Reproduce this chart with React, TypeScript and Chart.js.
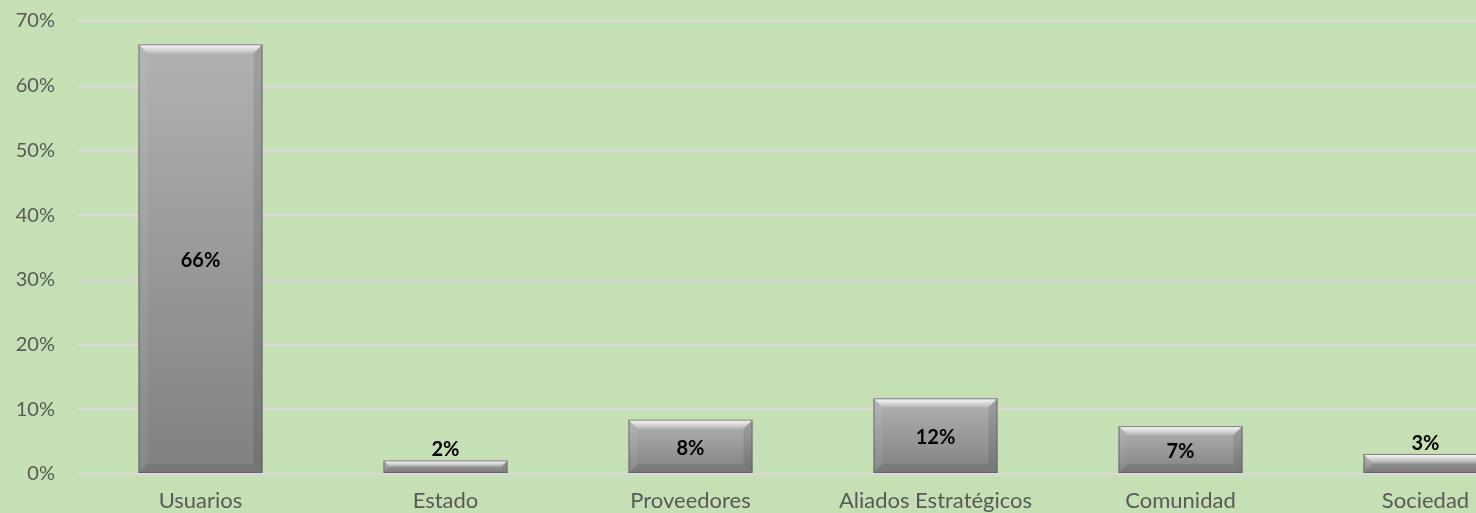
import React, { useEffect, useRef } from "react";
import { Chart, registerables } from "chart.js";

Chart.register(...registerables);

const categories = ["Usuarios", "Estado", "Proveedores", "Aliados Estratégicos", "Comunidad", "Sociedad"];
const values = [66.4, 2.1, 8.4, 11.7, 7.4, 3.1];
const labels = ["66%", "2%", "8%", "12%", "7%", "3%"];
const yMax = 70;
const yStep = 10;

const FONT = "Lato, 'Open Sans', sans-serif";
const SHIFT = 14;

const bevelPlugin = {
  id: "bevel",
  afterDatasetsDraw(chart: any) {
    const ctx = chart.ctx;
    const meta = chart.getDatasetMeta(0);
    meta.data.forEach((el: any, i: number) => {
      const { x, y, base, width } = el.getProps(["x", "y", "base", "width"], true);
      const l = x - width / 2;
      const r = x + width / 2;
      const t = y;
      const b = base;
      const h = b - t;
      const bv = Math.min(9, h / 2);
      ctx.save();
      const g = ctx.createLinearGradient(0, t, 0, t + bv);
      g.addColorStop(0, "rgba(255,255,255,0.95)");
      g.addColorStop(1, "rgba(255,255,255,0.15)");
      ctx.fillStyle = g;
      ctx.beginPath();
      ctx.moveTo(l, t);
      ctx.lineTo(r, t);
      ctx.lineTo(r - bv, t + bv);
      ctx.lineTo(l + bv, t + bv);
      ctx.closePath();
      ctx.fill();
      ctx.fillStyle = "rgba(255,255,255,0.06)";
      ctx.beginPath();
      ctx.moveTo(l, t);
      ctx.lineTo(l + bv, t + bv);
      ctx.lineTo(l + bv, b - bv);
      ctx.lineTo(l, b);
      ctx.closePath();
      ctx.fill();
      ctx.fillStyle = "rgba(0,0,0,0.1)";
      ctx.beginPath();
      ctx.moveTo(r, t);
      ctx.lineTo(r - bv, t + bv);
      ctx.lineTo(r - bv, b - bv);
      ctx.lineTo(r, b);
      ctx.closePath();
      ctx.fill();
      ctx.fillStyle = "rgba(0,0,0,0.07)";
      ctx.beginPath();
      ctx.moveTo(l, b);
      ctx.lineTo(r, b);
      ctx.lineTo(r - bv, b - bv);
      ctx.lineTo(l + bv, b - bv);
      ctx.closePath();
      ctx.fill();
      ctx.strokeStyle = "rgba(95,95,95,0.8)";
      ctx.lineWidth = 1;
      ctx.strokeRect(l + 0.5, t + 0.5, width - 1, h - 1);
      ctx.fillStyle = "#000000";
      ctx.font = `bold 20px ${FONT}`;
      ctx.textAlign = "center";
      if (h > 30) {
        ctx.textBaseline = "middle";
        ctx.fillText(labels[i], x, (t + b) / 2 + 2);
      } else {
        ctx.textBaseline = "alphabetic";
        ctx.fillText(labels[i], x, t - 4);
      }
      ctx.restore();
    });
  },
};

export default function App() {
  const ref = useRef<HTMLCanvasElement | null>(null);
  useEffect(() => {
    if (!ref.current) return;
    const chart = new Chart(ref.current, {
      type: "bar",
      data: {
        labels: categories,
        datasets: [
          {
            data: values,
            backgroundColor: (c: any) => {
              const ch = c.chart;
              const ys = ch.scales && ch.scales.y;
              if (!ys || c.raw == null) return "#9a9a9a";
              const top = ys.getPixelForValue(c.raw);
              const bot = ys.getPixelForValue(0);
              if (!isFinite(top) || !isFinite(bot) || top === bot) return "#9a9a9a";
              const g = ch.ctx.createLinearGradient(0, top, 0, bot);
              g.addColorStop(0, "#b2b2b2");
              g.addColorStop(1, "#808080");
              return g;
            },
            borderWidth: 0,
            barPercentage: 0.506,
            categoryPercentage: 1,
          },
        ],
      },
      options: {
        responsive: false,
        animation: false,
        layout: { padding: { top: 6, right: 12, left: 0, bottom: 0 } },
        plugins: { legend: { display: false }, tooltip: { enabled: false } },
        scales: {
          x: {
            grid: { display: false, drawTicks: false },
            border: { display: false },
            ticks: {
              color: "#595959",
              font: { family: FONT, size: 22 },
              padding: 14,
              autoSkip: false,
              maxRotation: 0,
            },
            afterFit: (s: any) => {
              s.height = 39;
            },
          },
          y: {
            min: 0,
            max: yMax,
            grid: { color: "#d9d9d9", lineWidth: 2, drawTicks: false },
            border: { display: false },
            ticks: {
              stepSize: yStep,
              color: "#595959",
              font: { family: FONT, size: 20 },
              padding: 23,
              callback: (v: any) => `${v}%`,
            },
            afterFit: (s: any) => {
              s.width = 78;
            },
          },
        },
      },
      plugins: [bevelPlugin],
    });
    return () => chart.destroy();
  }, []);
  return (
    <div
      style={{
        position: "fixed",
        left: 0,
        top: 0,
        width: 1476,
        height: 513,
        overflow: "hidden",
        background: "#c5e0b4",
      }}
    >
      <canvas
        ref={ref}
        width={1560}
        height={513 + SHIFT}
        style={{ display: "block", marginTop: -SHIFT }}
      />
    </div>
  );
}
